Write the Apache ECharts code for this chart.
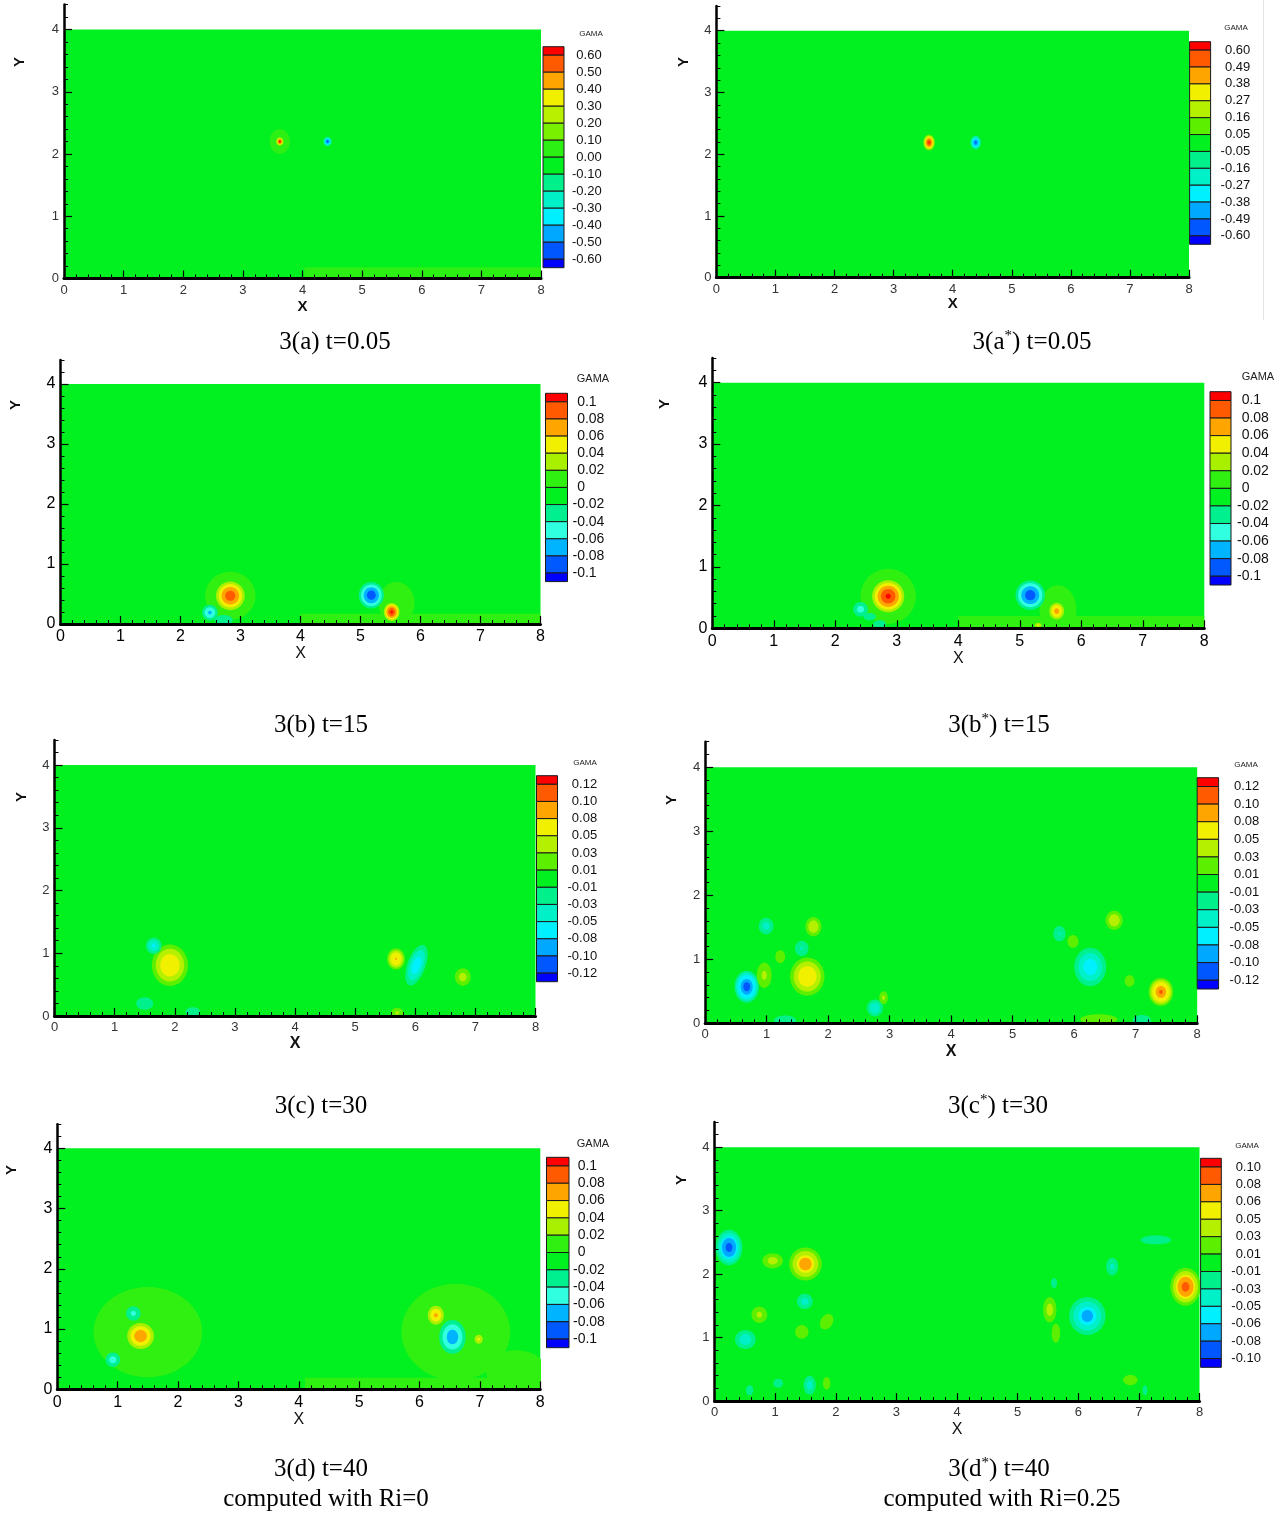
<!DOCTYPE html>
<html><head><meta charset="utf-8">
<script src="https://cdn.jsdelivr.net/npm/echarts@6/dist/echarts.min.js"></script>
<style>html,body{margin:0;padding:0;background:#fff}#c{width:1287px;height:1517px}</style>
</head><body><div id="c"></div>
<script>
// ---------------- DATA ----------------
const xTicks = [0,1,2,3,4,5,6,7,8];
const yTicks = [0,1,2,3,4];
const domainX = [0, 8];
const domainY = [0, 4];
const yAxisTop = 4.4;

// colour-bar tick labels (GAMA contour levels)
const levelsA  = ['0.60','0.50','0.40','0.30','0.20','0.10','0.00','-0.10','-0.20','-0.30','-0.40','-0.50','-0.60'];
const levelsAs = ['0.60','0.49','0.38','0.27','0.16','0.05','-0.05','-0.16','-0.27','-0.38','-0.49','-0.60'];
const levelsB  = ['0.1','0.08','0.06','0.04','0.02','0','-0.02','-0.04','-0.06','-0.08','-0.1'];
const levelsBs = ['0.1','0.08','0.06','0.04','0.02','0','-0.02','-0.04','-0.06','-0.08','-0.1'];
const levelsC  = ['0.12','0.10','0.08','0.05','0.03','0.01','-0.01','-0.03','-0.05','-0.08','-0.10','-0.12'];
const levelsCs = ['0.12','0.10','0.08','0.05','0.03','0.01','-0.01','-0.03','-0.05','-0.08','-0.10','-0.12'];
const levelsD  = ['0.1','0.08','0.06','0.04','0.02','0','-0.02','-0.04','-0.06','-0.08','-0.1'];
const levelsDs = ['0.10','0.08','0.06','0.05','0.03','0.01','-0.01','-0.03','-0.05','-0.06','-0.08','-0.10'];

// vortex blobs: [x, y, peak GAMA, radius x, radius y, tilt deg]
const blobsA = [
  [3.62, 2.20, 0.06, 0.17, 0.20],
  [3.62, 2.20, 0.65, 0.07, 0.075],
  [4.42, 2.20, -0.55, 0.07, 0.075]
];
const patchesA = [[4.03, 0, 8, 0.18, 0.05]];

const blobsAs = [
  [3.60, 2.19, 0.62, 0.10, 0.13],
  [4.39, 2.19, -0.52, 0.09, 0.11]
];
const patchesAs = [];

const blobsB = [
  [2.83, 0.47, 0.012, 0.42, 0.40],
  [5.60, 0.35, 0.012, 0.30, 0.35],
  [2.83, 0.47, 0.095, 0.28, 0.28],
  [2.72, 0.07, -0.03, 0.15, 0.08],
  [2.49, 0.19, -0.065, 0.13, 0.13],
  [5.18, 0.48, -0.095, 0.21, 0.22],
  [5.52, 0.20, 0.105, 0.15, 0.17]
];
const patchesB = [[4.0, 0, 8, 0.17, 0.01]];

const blobsBs = [
  [2.86, 0.52, 0.012, 0.45, 0.45],
  [5.62, 0.30, 0.012, 0.30, 0.40],
  [2.86, 0.52, 0.105, 0.30, 0.30],
  [2.56, 0.19, -0.03, 0.10, 0.06],
  [2.72, 0.07, -0.03, 0.10, 0.06],
  [2.41, 0.31, -0.05, 0.12, 0.12],
  [5.17, 0.54, -0.095, 0.24, 0.24],
  [5.60, 0.28, 0.07, 0.15, 0.17],
  [5.30, 0.05, 0.045, 0.08, 0.06]
];
const patchesBs = [[4.0, 0, 8, 0.2, 0.01]];

const blobsC = [
  [1.92, 0.81, 0.075, 0.30, 0.33],
  [1.65, 1.12, -0.055, 0.13, 0.13],
  [1.50, 0.20, -0.028, 0.14, 0.10],
  [2.30, 0.07, -0.025, 0.12, 0.07],
  [5.68, 0.91, 0.082, 0.15, 0.17],
  [6.02, 0.81, -0.065, 0.15, 0.34, -20],
  [6.79, 0.62, 0.04, 0.13, 0.14],
  [5.70, 0.05, 0.035, 0.10, 0.08]
];
const patchesC = [];

const blobsCs = [
  [0.675, 0.57, -0.115, 0.20, 0.25],
  [1.66, 0.73, 0.075, 0.28, 0.30],
  [0.96, 0.75, 0.035, 0.12, 0.20],
  [0.99, 1.52, -0.04, 0.12, 0.13],
  [1.76, 1.51, 0.05, 0.13, 0.15],
  [1.57, 1.17, -0.032, 0.11, 0.12],
  [1.22, 1.04, 0.028, 0.08, 0.10],
  [2.76, 0.24, -0.05, 0.13, 0.13],
  [2.90, 0.40, 0.035, 0.07, 0.10],
  [5.76, 1.40, -0.032, 0.10, 0.12],
  [5.98, 1.28, 0.03, 0.09, 0.10],
  [6.26, 0.88, -0.065, 0.26, 0.30],
  [6.65, 1.61, 0.05, 0.14, 0.15],
  [6.90, 0.66, 0.028, 0.08, 0.09],
  [7.41, 0.49, 0.105, 0.20, 0.22],
  [1.30, 0.04, -0.03, 0.18, 0.08],
  [7.10, 0.05, -0.03, 0.15, 0.08],
  [6.40, 0.06, 0.03, 0.30, 0.08]
];
const patchesCs = [];

const blobsD = [
  [1.50, 0.95, 0.01, 0.90, 0.75],
  [6.60, 0.95, 0.01, 0.90, 0.80],
  [7.60, 0.30, 0.01, 0.50, 0.35],
  [1.38, 0.885, 0.078, 0.27, 0.26],
  [1.26, 1.26, -0.045, 0.12, 0.12],
  [0.92, 0.49, -0.05, 0.12, 0.12],
  [6.27, 1.23, 0.065, 0.17, 0.20],
  [6.545, 0.87, -0.075, 0.22, 0.28],
  [6.98, 0.83, 0.045, 0.10, 0.11]
];
const patchesD = [[4.1, 0, 8, 0.19, 0.01]];

const blobsDs = [
  [0.24, 2.42, -0.09, 0.22, 0.28],
  [0.96, 2.21, 0.04, 0.17, 0.12],
  [1.50, 2.16, 0.075, 0.27, 0.26],
  [6.56, 2.12, -0.035, 0.10, 0.14],
  [7.28, 2.54, -0.028, 0.25, 0.07],
  [7.77, 1.80, 0.09, 0.25, 0.30],
  [5.60, 1.86, -0.025, 0.05, 0.08],
  [5.63, 1.07, 0.025, 0.07, 0.15],
  [5.53, 1.44, 0.04, 0.11, 0.20],
  [6.15, 1.34, -0.07, 0.30, 0.30],
  [1.49, 1.57, -0.04, 0.13, 0.12],
  [0.74, 1.36, 0.035, 0.13, 0.13],
  [1.85, 1.25, 0.025, 0.10, 0.13, -30],
  [1.44, 1.09, 0.025, 0.11, 0.11],
  [0.51, 0.97, -0.045, 0.17, 0.15],
  [1.05, 0.28, -0.025, 0.08, 0.07],
  [1.57, 0.25, -0.04, 0.10, 0.15],
  [1.85, 0.28, 0.025, 0.06, 0.10],
  [0.58, 0.17, -0.025, 0.06, 0.08],
  [6.86, 0.33, 0.025, 0.12, 0.08],
  [7.10, 0.17, -0.02, 0.04, 0.08]
];
const patchesDs = [];

const captions = ['3(a) t=0.05','3(a*) t=0.05','3(b) t=15','3(b*) t=15','3(c) t=30','3(c*) t=30','3(d) t=40','3(d*) t=40'];
const subCaptions = ['computed with Ri=0','computed with Ri=0.25'];
const axisNames = ['X','Y','GAMA'];

// ---------------- STYLE / LAYOUT ----------------
const PAL14 = ['#ff0000','#ff5a00','#ffa500','#f0f000','#b8f000','#78f000','#2cf014','#00f020','#00f08c','#00f0c8','#00f0ff','#00a8ff','#0056ff','#0000ff'];
const PAL13 = ['#ff0000','#ff5a00','#ffa500','#f0f000','#b4f000','#5cf000','#00f020','#00f08c','#00f0c8','#00f0ff','#00a8ff','#0056ff','#0000ff'];
const PAL12 = ['#ff0000','#ff5a00','#ffa500','#f0f000','#a8f000','#30f012','#00f020','#00f090','#30ffe0','#00b4ff','#0058ff','#0000ff'];
const SANS = 'Liberation Sans, Arial, sans-serif';
const SERIF = 'Liberation Serif, Times New Roman, serif';

const PANELS = [
  {levels:levelsA, blobs:blobsA, patches:patchesA, pal:PAL14, bg:7,
   plot:[64,4.6,477,273.9], cb:[543,46.7,21,221], tick:13, tickColor:'#333', cbFont:13, cbMargin:8,
   xName:{gap:21,size:15,bold:'bold'}, yName:[20,62,15,'bold'], gama:[591,34,8], cap:[335,342]},
  {levels:levelsAs, blobs:blobsAs, patches:patchesAs, pal:PAL13, bg:6,
   plot:[716.4,6.0,472.6,271.7], cb:[1189.6,41.7,21,202.6], tick:13, tickColor:'#333', cbFont:13, cbMargin:10,
   xName:{gap:19,size:15,bold:'bold'}, yName:[684,62,15,'bold'], gama:[1236,28,8], cap:[1032,342]},
  {levels:levelsB, blobs:blobsB, patches:patchesB, pal:PAL12, bg:6,
   plot:[60.5,360,480,264], cb:[545.5,393.3,22,188.3], tick:16, tickColor:'#000', cbFont:14, cbMargin:5,
   xName:{gap:20,size:16,bold:'normal'}, yName:[16,405,15,'bold'], gama:[593,379,11], cap:[321,725]},
  {levels:levelsBs, blobs:blobsBs, patches:patchesBs, pal:PAL12, bg:6,
   plot:[712.3,358.1,492,270.2], cb:[1210,391.7,21,193.3], tick:16, tickColor:'#000', cbFont:14, cbMargin:6,
   xName:{gap:21,size:16,bold:'normal'}, yName:[665,404,15,'bold'], gama:[1258,377,11], cap:[999,725]},
  {levels:levelsC, blobs:blobsC, patches:patchesC, pal:PAL13, bg:6,
   plot:[54.5,739.9,481,276.1], cb:[536.5,775.7,21,206], tick:13, tickColor:'#333', cbFont:13, cbMargin:10,
   xName:{gap:20,size:16,bold:'bold'}, yName:[22,797,15,'bold'], gama:[585,763,8], cap:[321,1106]},
  {levels:levelsCs, blobs:blobsCs, patches:patchesCs, pal:PAL13, bg:6,
   plot:[705.2,741.7,492,281.6], cb:[1197.2,777.7,21.4,211.3], tick:13, tickColor:'#333', cbFont:13, cbMargin:11,
   xName:{gap:20,size:16,bold:'bold'}, yName:[672,800,15,'bold'], gama:[1246,765,8], cap:[998,1106]},
  {levels:levelsD, blobs:blobsD, patches:patchesD, pal:PAL12, bg:6,
   plot:[57.3,1124.2,483,265.1], cb:[546.5,1157.3,22.5,190.4], tick:16, tickColor:'#000', cbFont:14, cbMargin:4,
   xName:{gap:21,size:16,bold:'normal'}, yName:[12,1170,15,'bold'], gama:[593,1144,11], cap:[321,1469], sub:[326,1499]},
  {levels:levelsDs, blobs:blobsDs, patches:patchesDs, pal:PAL13, bg:6,
   plot:[714.5,1121.9,485,279.1], cb:[1200.6,1158.3,20.7,209], tick:13, tickColor:'#333', cbFont:13, cbMargin:10,
   xName:{gap:21,size:16,bold:'normal'}, yName:[682,1180,15,'bold'], gama:[1247,1146,8], cap:[999,1469], sub:[1002,1499]}
];
const K = 0.65;

// ---------------- BUILD ----------------
const option = {animation:false, backgroundColor:'#fff', grid:[], xAxis:[], yAxis:[], series:[], graphic:[]};

function bandOf(nums, v){ return nums.filter(t => t > v).length; }

PANELS.forEach((p, pi) => {
  const nums = p.levels.map(Number);
  const n = nums.length;
  const hiBg = nums[p.bg-1], loBg = nums[p.bg];
  const gi = option.grid.length;
  option.grid.push({left:p.plot[0], top:p.plot[1], width:p.plot[2], height:p.plot[3], containLabel:false});
  const lblStyle = {fontFamily:SANS, fontSize:p.tick, color:p.tickColor};
  const xi = option.xAxis.length;
  option.xAxis.push({
    gridIndex:gi, type:'value', min:domainX[0], max:domainX[1], interval:1, z:10,
    axisLine:{show:true, onZero:false, lineStyle:{color:'#000', width:3}},
    axisTick:{show:true, inside:true, length:8, lineStyle:{color:'#000', width:1.2}},
    minorTick:{show:true, splitNumber:5, length:4, lineStyle:{color:'#000', width:1}},
    splitLine:{show:false},
    axisLabel:Object.assign({margin:5}, lblStyle),
    name:axisNames[0], nameLocation:'middle', nameGap:p.xName.gap,
    nameTextStyle:{fontFamily:SANS, fontSize:p.xName.size, fontWeight:p.xName.bold, color:'#111'}
  });
  const yi = option.yAxis.length;
  option.yAxis.push({
    gridIndex:gi, type:'value', min:domainY[0], max:yAxisTop, interval:1, z:10,
    axisLine:{show:true, onZero:false, lineStyle:{color:'#000', width:2.5}},
    axisTick:{show:true, inside:true, length:8, customValues:yTicks, lineStyle:{color:'#000', width:1.2}},
    splitLine:{show:false},
    axisLabel:Object.assign({margin:5, customValues:yTicks}, lblStyle)
  });
  // minor y ticks (0.2 spacing)
  option.yAxis.push({
    gridIndex:gi, type:'value', min:domainY[0], max:yAxisTop, interval:0.2, z:10, position:'left',
    axisLine:{show:false, onZero:false}, axisLabel:{show:false}, splitLine:{show:false},
    axisTick:{show:true, inside:true, length:4, lineStyle:{color:'#000', width:1}}
  });
  // background field
  option.series.push({
    type:'custom', xAxisIndex:xi, yAxisIndex:yi, z:2, clip:true, silent:true,
    data:[[domainX[0], domainY[0], domainX[1], domainY[1]]],
    renderItem:(params, api) => {
      const a = api.coord([api.value(0), api.value(3)]);
      const b = api.coord([api.value(2), api.value(1)]);
      return {type:'rect', shape:{x:a[0], y:a[1], width:b[0]-a[0], height:b[1]-a[1]}, style:{fill:p.pal[p.bg]}};
    }
  });
  // near-wall patches
  if (p.patches.length) option.series.push({
    type:'custom', xAxisIndex:xi, yAxisIndex:yi, z:3, clip:true, silent:true,
    data:p.patches,
    renderItem:(params, api) => {
      const a = api.coord([api.value(0), api.value(3)]);
      const b = api.coord([api.value(2), api.value(1)]);
      return {type:'rect', shape:{x:a[0], y:a[1], width:b[0]-a[0], height:b[1]-a[1]}, style:{fill:p.pal[bandOf(nums, api.value(4))]}};
    }
  });
  // vortex blobs as nested contour bands
  option.series.push({
    type:'custom', xAxisIndex:xi, yAxisIndex:yi, z:4, clip:true, silent:true,
    data:p.blobs.map(b => [b[0], b[1], b[2], b[3], b[4], b.length > 5 ? b[5] : 0]),
    renderItem:(params, api) => {
      const P = api.value(2);
      const c = api.coord([api.value(0), api.value(1)]);
      const s = api.size([api.value(3), api.value(4)]);
      const rot = (api.value(5) || 0) * Math.PI / 180;
      const children = [];
      let rings;
      if (P > 0) {
        rings = nums.map((t,i)=>({t,i})).filter(o => o.t >= hiBg - 1e-9 && o.t < P).sort((a,b)=>a.t-b.t)
          .map(o => ({f:Math.pow((P-o.t)/(P-hiBg), K), col:p.pal[o.i]}));
      } else {
        rings = nums.map((t,i)=>({t,i})).filter(o => o.t <= loBg + 1e-9 && o.t > P).sort((a,b)=>b.t-a.t)
          .map(o => ({f:Math.pow((o.t-P)/(loBg-P), K), col:p.pal[o.i+1]}));
      }
      rings.forEach(r => children.push({
        type:'ellipse', x:c[0], y:c[1], rotation:rot,
        shape:{cx:0, cy:0, rx:Math.max(0.6, s[0]*r.f), ry:Math.max(0.6, s[1]*r.f)},
        style:{fill:r.col}
      }));
      return {type:'group', children};
    }
  });
  // colour bar
  const u = p.cb[3] / n;
  const ci = option.grid.length;
  option.grid.push({left:p.cb[0], top:p.cb[1] + u/2, width:p.cb[2], height:p.cb[3] - u, containLabel:false});
  const cxi = option.xAxis.length;
  option.xAxis.push({gridIndex:ci, type:'value', min:0, max:1, show:false});
  const cyi = option.yAxis.length;
  option.yAxis.push({
    gridIndex:ci, type:'value', min:0, max:n-1, interval:1, position:'right',
    axisLine:{show:false}, axisTick:{show:false}, splitLine:{show:false},
    axisLabel:{
      margin:p.cbMargin, fontFamily:SANS, fontSize:p.cbFont, color:'#111',
      formatter:(v) => { const s = p.levels[Math.round(n-1-v)]; return s.charAt(0) === '-' ? s : '{h|-}' + s; },
      rich:{h:{color:'rgba(0,0,0,0)', fontFamily:SANS, fontSize:p.cbFont}}
    }
  });
  option.series.push({
    type:'custom', xAxisIndex:cxi, yAxisIndex:cyi, z:3, silent:true,
    data:p.pal.map((col, j) => [0, j]),
    renderItem:(params, api) => {
      const j = params.dataIndex;
      const top = Math.min(n - j, n - 0.5), bot = Math.max(n - 1 - j, -0.5);
      const a = api.coord([0, top]), b = api.coord([1, bot]);
      return {type:'rect', shape:{x:a[0], y:a[1], width:b[0]-a[0], height:b[1]-a[1]},
              style:{fill:p.pal[j], stroke:'#1a1a1a', lineWidth:1}};
    }
  });
  // texts
  option.graphic.push({type:'text', x:p.gama[0], y:p.gama[1], silent:true,
    style:{text:axisNames[2], fontFamily:SANS, fontSize:p.gama[2], fill:'#222', align:'center', verticalAlign:'middle'}});
  option.graphic.push({type:'text', x:p.yName[0], y:p.yName[1], rotation:Math.PI/2, silent:true,
    style:{text:axisNames[1], fontFamily:SANS, fontSize:p.yName[2], fontWeight:p.yName[3], fill:'#111', align:'center', verticalAlign:'middle'}});
  option.graphic.push({type:'text', x:p.cap[0], y:p.cap[1], silent:true,
    style:{text:captions[pi].replace('*','{s|*}'), fontFamily:SERIF, fontSize:25, fill:'#000', align:'center', verticalAlign:'middle',
      rich:{s:{fontFamily:SERIF, fontSize:15, verticalAlign:'top', padding:[0,0,12,0]}}}});
  if (p.sub) option.graphic.push({type:'text', x:p.sub[0], y:p.sub[1], silent:true,
    style:{text:subCaptions[pi === 6 ? 0 : 1], fontFamily:SERIF, fontSize:25, fill:'#000', align:'center', verticalAlign:'middle'}});
});
option.graphic.push({type:'line', silent:true, shape:{x1:1263.5, y1:0, x2:1263.5, y2:320}, style:{stroke:'#e4e4e4', lineWidth:1}});

const chart = echarts.init(document.getElementById('c'), null, {renderer:'canvas', width:1287, height:1517});
chart.setOption(option);
</script>
</body></html>
